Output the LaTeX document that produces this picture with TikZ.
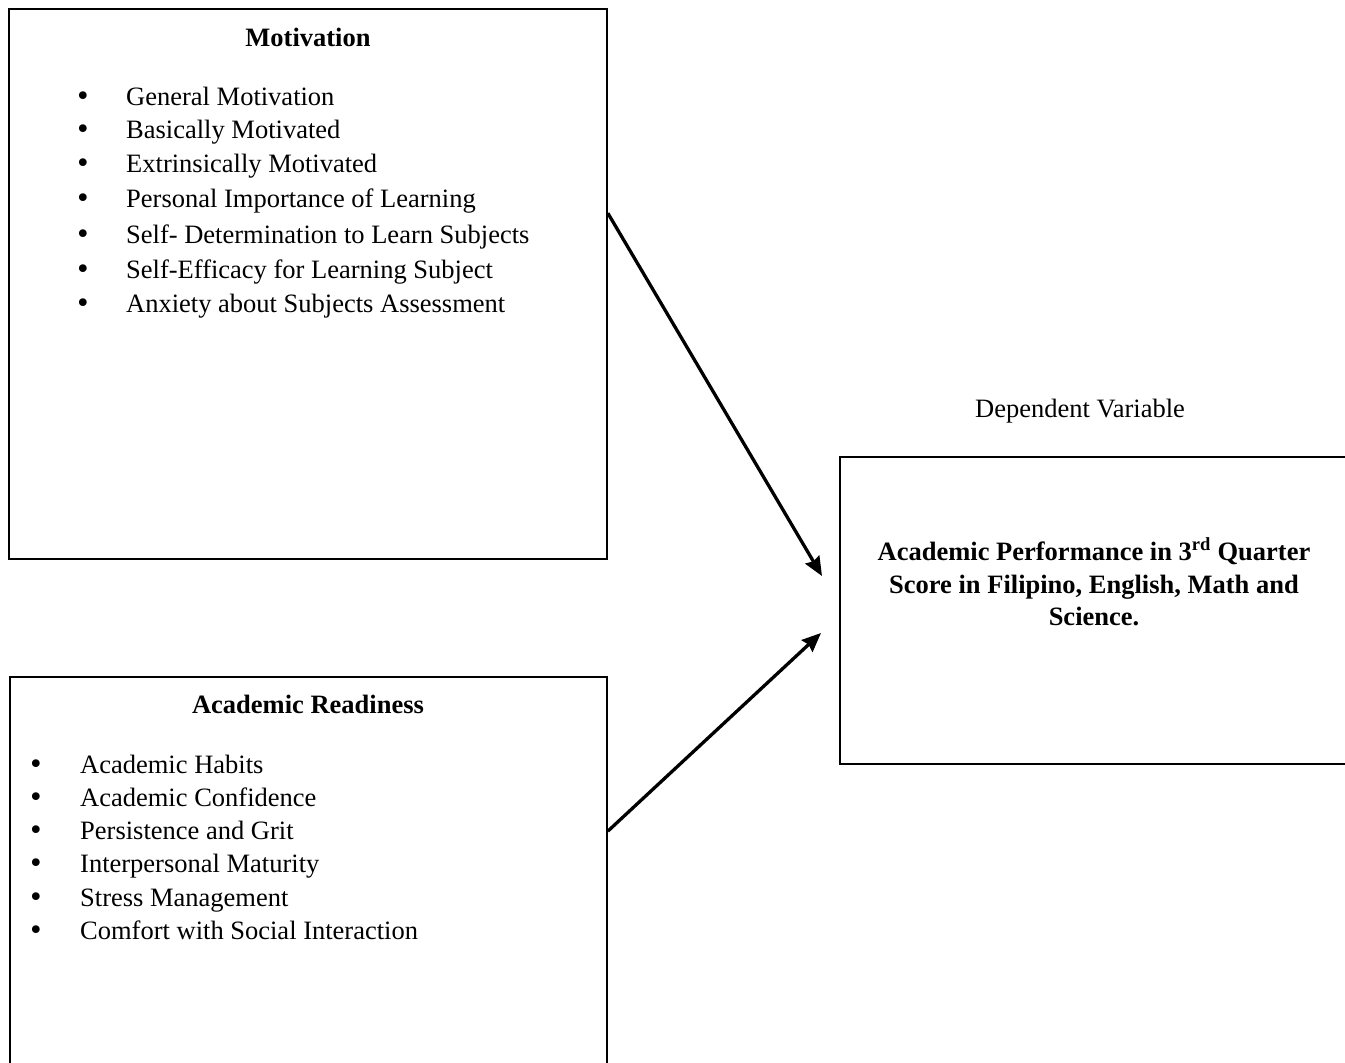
\documentclass[tikz,border=0pt]{standalone}
\usepackage{fontspec}
\setmainfont{Liberation Serif}
\newfontfamily\bulfont{DejaVu Sans}
\usetikzlibrary{arrows.meta}
\tikzset{
  box/.style={draw=black, line width=1.7pt, rectangle, inner sep=0pt},
  txt/.style={inner sep=0pt, anchor=base west, font=\fontsize{26.5}{34}\selectfont},
  plain/.style={inner sep=0pt, anchor=base, font=\fontsize{26.5}{34}\selectfont},
  bul/.style={inner sep=0pt, anchor=base, font=\fontsize{26.5}{30}\bulfont},
  ttl/.style={inner sep=0pt, anchor=base, font=\fontsize{26.5}{34}\selectfont\bfseries},
  link/.style={line width=3.3pt, -{Stealth[length=19pt,width=16pt,inset=2pt]}}
}
\begin{document}
\begin{tikzpicture}[x=1pt,y=-1pt]
\useasboundingbox (0,0) rectangle (1345,1063);
\clip (0,0) rectangle (1345,1063);
% boxes
\node[box, minimum width=598pt, minimum height=550pt] (mot) at (308,284) {};
\node[box, minimum width=597pt, minimum height=420pt] (rdy) at (308.5,887) {};
\node[box, minimum width=520pt, minimum height=307pt] (dep) at (1100,610.5) {};
% motivation box
\node[ttl] (motT) at (308,46) {Motivation};
\foreach \i/\y/\t in {1/105/General Motivation,2/138/Basically Motivated,3/172/Extrinsically Motivated,4/207/Personal Importance of Learning,5/243/Self- Determination to Learn Subjects,6/278/Self-Efficacy for Learning Subject,7/312/Anxiety about Subjects Assessment}{
  \node[bul] (mb\i) at (83,\y) {•};
  \node[txt] (mi\i) at (126,\y) {\t};
}
% readiness box
\node[ttl] (rdyT) at (308,713) {Academic Readiness};
\foreach \i/\y/\t in {1/773/Academic Habits,2/806/Academic Confidence,3/839/Persistence and Grit,4/872/Interpersonal Maturity,5/906/Stress Management,6/939/Comfort with Social Interaction}{
  \node[bul] (rb\i) at (36,\y) {•};
  \node[txt] (ri\i) at (80,\y) {\t};
}
% dependent
\node[plain] (depL) at (1080,417) {Dependent Variable};
\node[ttl] (d1) at (1094,560) {Academic Performance in 3\textsuperscript{rd} Quarter};
\node[ttl] (d2) at (1094,593) {Score in Filipino, English, Math and};
\node[ttl] (d3) at (1094,625) {Science.};
% arrows
\path (mot.north east) ++(0,205) coordinate (s1);
\path (rdy.north east) ++(0,155) coordinate (s2);
\coordinate (t1) at (822,576);
\coordinate (t2) at (821,633);
\draw[link] (s1) -- (t1);
\draw[link] (s2) -- (t2);
\end{tikzpicture}
\end{document}
